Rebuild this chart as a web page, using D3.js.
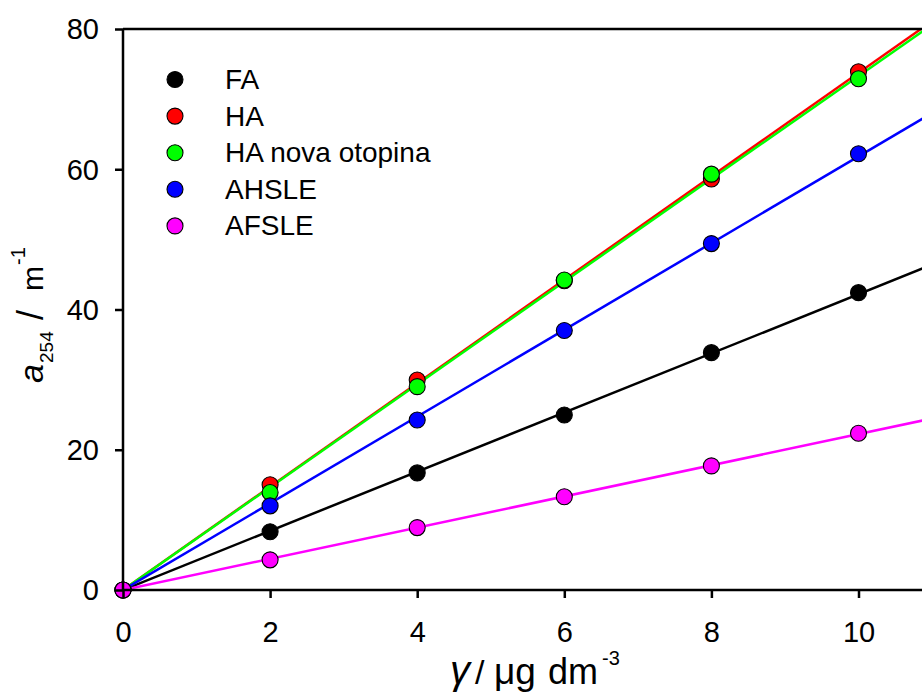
<!DOCTYPE html>
<html>
<head>
<meta charset="utf-8">
<script src="https://cdn.jsdelivr.net/npm/d3@7"></script>
<style>
  html, body { margin: 0; padding: 0; background: #fff; }
  svg { display: block; }
  text { font-family: Arial, "Liberation Sans", sans-serif; fill: #000; }
</style>
</head>
<body>
<div id="chart"></div>
<script>
// ---- data ----
const xValues = [0, 2, 4, 6, 8, 10];
const seriesNames = ["FA", "HA", "HA nova otopina", "AHSLE", "AFSLE"];
const seriesColors = ["#000000", "#ff0000", "#00ff00", "#0000ff", "#ff00ff"];
const faValues     = [0, 8.3, 16.7, 24.95, 33.85, 42.4];
const haValues     = [0, 15.0, 29.95, 44.1, 58.6, 73.9];
const haNovaValues = [0, 13.9, 29.0, 44.2, 59.3, 72.9];
const ahsleValues  = [0, 12.0, 24.25, 37.0, 49.4, 62.2];
const afsleValues  = [0, 4.3, 8.9, 13.3, 17.7, 22.35];
const xTicks = [0, 2, 4, 6, 8, 10];
const yTicks = [0, 20, 40, 60, 80];

const seriesValues = [faValues, haValues, haNovaValues, ahsleValues, afsleValues];

// ---- layout ----
const W = 922, H = 693;
const x = d3.scaleLinear().domain([0, 12]).range([123, 123 + 12 * 73.55]);
const y = d3.scaleLinear().domain([0, 80]).range([590, 29]);

const svg = d3.select("#chart").append("svg").attr("width", W).attr("height", H);

svg.append("defs").append("clipPath").attr("id", "plotclip")
  .append("rect").attr("x", x(0)).attr("y", y(80))
  .attr("width", x(12) - x(0)).attr("height", y(0) - y(80));

// regression through origin for each series
function slopeOf(vals) {
  let sxy = 0, sxx = 0;
  xValues.forEach((xv, i) => { sxy += xv * vals[i]; sxx += xv * xv; });
  return sxy / sxx;
}

const plot = svg.append("g").attr("clip-path", "url(#plotclip)");

// fit lines (drawn below markers)
seriesValues.forEach((vals, k) => {
  const b = slopeOf(vals);
  const pts = [[0, 0], [12, 12 * b]];
  plot.append("path")
    .attr("d", d3.line().x(d => x(d[0])).y(d => y(d[1]))(pts))
    .attr("fill", "none").attr("stroke", seriesColors[k]).attr("stroke-width", 2.5);
});

// markers
seriesValues.forEach((vals, k) => {
  svg.append("g").selectAll("circle").data(vals).join("circle")
    .attr("cx", (d, i) => x(xValues[i])).attr("cy", d => y(d))
    .attr("r", 8).attr("fill", seriesColors[k])
    .attr("stroke", "#000").attr("stroke-width", 1.1);
});

// axes
const xAxis = d3.axisBottom(x).tickValues(xTicks).tickSize(8).tickPadding(6).tickFormat(d3.format("d"));
const gx = svg.append("g").attr("transform", `translate(0,${y(0)})`).call(xAxis);
gx.select(".domain").attr("d", `M${x(0)},0H${W + 10}`).attr("stroke-width", 2.5);
gx.selectAll(".tick line").attr("stroke-width", 2.5);
gx.selectAll(".tick text").attr("font-size", 29).attr("font-family", "Arial, 'Liberation Sans', sans-serif")
  .attr("dy", null).attr("y", 52);

const yAxis = d3.axisLeft(y).tickValues(yTicks).tickSize(8).tickPadding(16).tickFormat(d3.format("d"));
const gy = svg.append("g").attr("transform", `translate(${x(0)},0)`).call(yAxis);
gy.select(".domain").attr("d", `M0,${y(0)}V${y(80)}`).attr("stroke-width", 2.5);
gy.selectAll(".tick line").attr("stroke-width", 2.5);
gy.selectAll(".tick text").attr("font-size", 29).attr("font-family", "Arial, 'Liberation Sans', sans-serif")
  .attr("dy", "0.34em");

// top border
svg.append("line").attr("x1", x(0)).attr("x2", W + 10).attr("y1", y(80)).attr("y2", y(80))
  .attr("stroke", "#000").attr("stroke-width", 2.5);

// legend
const leg = svg.append("g");
seriesNames.forEach((name, k) => {
  const cy = 79.5 + k * 36.6;
  leg.append("circle").attr("cx", 175).attr("cy", cy).attr("r", 8)
    .attr("fill", seriesColors[k]).attr("stroke", "#000").attr("stroke-width", 1.1);
  leg.append("text").attr("x", 225).attr("y", cy + 9.5).attr("font-size", 28).text(name);
});

// axis label pieces placed individually
function piece(parent, txt, px, py, size, opts) {
  const t = parent.append("text").attr("x", px).attr("y", py).attr("font-size", size).text(txt);
  if (opts && opts.italic) t.attr("font-style", "italic");
  if (opts && opts.serif) t.attr("font-family", "'Liberation Serif', 'Times New Roman', serif");
  return t;
}
const xl = svg.append("g");
piece(xl, "γ", 450, 684, 40, { italic: true, serif: true });
piece(xl, "/", 475, 684, 34);
piece(xl, "μg", 494, 684, 37);
piece(xl, "dm", 548, 684, 36);
piece(xl, "-3", 602, 665, 20);

// y axis label
const yl = svg.append("g").attr("transform", "translate(43,383) rotate(-90)");
piece(yl, "a", 0, 0, 34, { italic: true });
piece(yl, "254", 20, 10, 19);
piece(yl, "/", 63, 0, 36);
piece(yl, "m", 92, 0, 30);
piece(yl, "-1", 118, -18, 20);
</script>
</body>
</html>
